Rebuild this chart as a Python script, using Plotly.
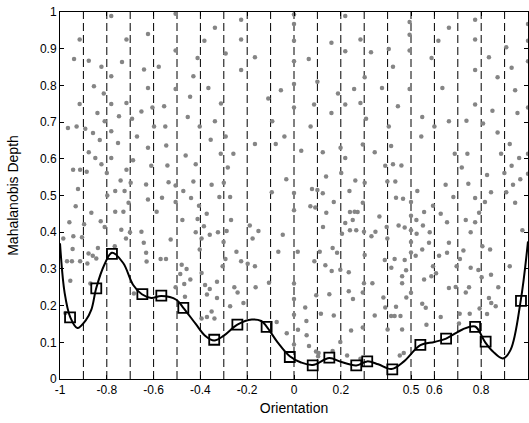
import plotly.graph_objects as go

# ---------------- data ----------------
# grey sample points (orientation, depth)
dot_x = [
 -0.781,-0.916,-0.716,-0.624,-0.506,-0.506,-0.940,-0.877,-0.823,-0.735,-0.641,-0.578,-0.781,-0.855,-0.813,-0.624,-0.506,
 -0.916,-0.781,-0.716,-0.605,-0.555,-0.840,-0.748,-0.652,-0.692,-0.809,-0.966,-0.929,-0.892,-0.859,-0.781,-0.598,-0.550,
 -0.830,-0.671,-0.752,-0.624,-0.546,-0.877,-0.849,-0.781,-0.688,-0.823,-0.610,-0.541,-0.944,-0.914,-0.886,-0.716,-0.800,
 -0.741,-0.698,-0.536,-0.632,-0.506,-0.923,-0.764,-0.724,
 -0.338,-0.226,0.0,0.0,-0.383,-0.226,0.0,-0.412,-0.292,-0.167,0.0,-0.226,-0.430,-0.366,-0.056,0.0,-0.444,-0.110,-0.312,0.0,
 -0.454,-0.338,-0.093,-0.403,-0.292,-0.041,-0.356,-0.167,-0.078,-0.463,-0.313,-0.259,-0.420,-0.283,-0.033,-0.430,-0.352,
 -0.300,-0.473,-0.095,0.0,
 0.219,0.160,0.284,0.494,0.494,0.494,0.063,0.219,0.329,0.405,0.423,0.302,0.100,0.257,0.376,0.494,0.188,0.086,0.219,0.284,
 0.444,0.160,0.308,0.071,0.405,0.031,0.123,0.199,0.294,0.345,0.415,0.219,0.390,0.423,0.459,0.137,0.202,0.262,0.302,0.399,
 0.433,0.077,0.100,0.123,0.237,
 0.662,0.774,1.0,1.0,0.617,0.774,0.907,0.588,0.833,1.0,0.774,0.930,0.870,0.634,0.945,0.774,0.848,0.955,1.0,0.548,0.662,
 0.737,0.808,0.600,0.870,0.544,0.922,0.687,0.741,0.885,1.0,0.962,0.717,0.930,0.825,0.899,1.0,0.648,0.745,0.936,0.967,
 0.527,0.842,0.907,
 -0.798,-0.624,-0.564,-0.506,-0.933,-0.866,-0.764,-0.729,-0.707,-0.587,-0.960,-0.897,-0.826,-0.809,-0.738,-0.701,-0.652,
 -0.986,-0.943,-0.906,-0.718,-0.642,-0.527,-0.946,-0.838,-0.766,-0.632,-0.878,-0.860,-0.845,-0.970,-0.949,-0.914,-0.883,
 -0.630,-0.570,-0.547,-0.956,-0.870,-0.506,-0.684,-0.977,
 -0.440,-0.319,-0.273,-0.406,-0.373,-0.477,-0.412,-0.385,-0.420,-0.360,-0.395,-0.325,-0.288,-0.301,-0.269,-0.189,-0.152,
 -0.177,-0.048,-0.403,-0.246,-0.293,-0.226,-0.198,-0.305,-0.167,-0.067,-0.480,-0.459,-0.486,-0.395,-0.443,-0.469,-0.329,
 -0.380,-0.360,-0.372,-0.255,-0.241,-0.164,-0.107,-0.329,-0.466,-0.216,-0.273,-0.395,-0.372,-0.352,-0.340,-0.074,-0.031,
 0.0,0.0,0.0,0.0,0.0,0.070,0.091,0.170,0.138,0.124,0.219,0.239,0.259,0.272,0.294,0.251,0.239,0.266,0.205,0.299,0.331,
 0.348,0.365,0.436,0.466,0.447,0.473,0.396,0.399,0.016,0.087,0.110,0.165,0.184,0.134,0.161,0.198,0.234,0.302,0.388,
 0.416,0.430,0.473,0.479,0.462,0.299,0.335,0.462,0.095,0.151,0.234,0.252,0.294,0.382,0.480,0.390,0.436,0.415,0.430,
 0.455,0.048,0.115,0.170,0.345,0.053,0.017,0.054,0.244,0.294,0.400,0.462,0.198,0.064,0.094,0.105,0.165,0.103,0.227,
 0.284,0.452,0.469,
 0.5,0.5,0.5,0.5,0.5,0.5,0.594,0.556,0.627,0.681,0.774,0.816,0.945,0.523,0.551,0.580,0.524,0.654,0.734,0.774,0.791,
 0.755,0.577,0.662,0.548,0.520,0.620,0.654,0.724,0.709,0.805,0.838,0.976,0.594,0.607,0.587,0.556,0.695,0.755,0.788,
 0.802,0.842,0.922,0.662,0.691,0.734,0.748,0.873,0.548,0.563,0.627,0.833,0.843,0.862,0.793,0.708,0.751,0.825,0.566,
 0.705,
]
dot_y = [
 0.989,0.925,0.925,0.940,0.995,0.895,0.872,0.867,0.851,0.864,0.843,0.851,0.825,0.798,0.778,0.793,0.790,
 0.749,0.749,0.752,0.740,0.743,0.725,0.716,0.729,0.709,0.702,0.684,0.688,0.682,0.670,0.675,0.688,0.688,
 0.651,0.661,0.643,0.630,0.636,0.618,0.602,0.602,0.596,0.585,0.581,0.582,0.570,0.570,0.565,0.570,0.561,
 0.541,0.535,0.536,0.530,0.527,0.518,0.512,0.512,
 0.957,0.979,0.993,0.967,0.922,0.925,0.922,0.875,0.887,0.877,0.866,0.842,0.825,0.793,0.787,0.804,0.769,0.764,0.751,0.740,
 0.714,0.702,0.702,0.688,0.661,0.661,0.652,0.640,0.640,0.609,0.614,0.614,0.585,0.576,0.544,0.538,0.529,
 0.535,0.512,0.509,0.507,
 0.989,0.916,0.925,0.973,0.938,0.895,0.872,0.893,0.890,0.899,0.851,0.822,0.810,0.790,0.793,0.790,0.778,0.748,0.748,0.752,
 0.743,0.725,0.709,0.688,0.688,0.622,0.618,0.630,0.639,0.618,0.635,0.602,0.581,0.585,0.582,0.552,0.561,0.541,0.535,0.538,
 0.538,0.518,0.515,0.506,0.512,
 0.957,0.979,0.967,0.922,0.922,0.925,0.904,0.875,0.877,0.866,0.842,0.848,0.822,0.793,0.787,0.748,0.731,0.725,0.740,0.714,0.702,
 0.704,0.696,0.688,0.672,0.661,0.640,0.614,0.614,0.614,0.614,0.602,0.576,0.581,0.556,0.561,0.559,0.529,0.532,0.529,0.544,
 0.512,0.509,0.509,
 0.500,0.489,0.494,0.482,0.471,0.453,0.456,0.456,0.480,0.456,0.427,0.422,0.430,0.414,0.407,0.400,0.401,
 0.383,0.389,0.386,0.383,0.371,0.380,0.354,0.357,0.362,0.344,0.342,0.336,0.328,0.321,0.321,0.321,0.315,
 0.320,0.327,0.327,0.268,0.260,0.250,0.233,0.180,
 0.493,0.496,0.496,0.472,0.450,0.433,0.436,0.416,0.400,0.393,0.383,0.400,0.403,0.373,0.433,0.418,0.403,
 0.383,0.393,0.353,0.347,0.327,0.321,0.314,0.307,0.307,0.347,0.311,0.300,0.286,0.289,0.271,0.259,0.265,
 0.256,0.245,0.230,0.250,0.236,0.250,0.262,0.221,0.224,0.207,0.198,0.165,0.169,0.184,0.165,0.155,0.125,
 0.460,0.260,0.218,0.175,0.094,0.471,0.467,0.482,0.453,0.414,0.425,0.455,0.456,0.455,0.480,0.433,0.405,0.405,0.396,0.401,0.389,
 0.401,0.443,0.494,0.491,0.418,0.413,0.414,0.383,0.347,0.321,0.347,0.357,0.344,0.310,0.294,0.298,0.291,0.338,0.324,
 0.303,0.327,0.324,0.296,0.280,0.261,0.261,0.261,0.228,0.231,0.239,0.218,0.236,0.222,0.222,0.195,0.197,0.172,0.172,
 0.172,0.195,0.178,0.173,0.173,0.158,0.134,0.119,0.132,0.140,0.135,0.135,0.101,0.090,0.075,0.071,0.076,0.062,0.064,
 0.055,0.064,0.071,
 0.482,0.445,0.405,0.373,0.345,0.235,0.472,0.455,0.450,0.496,0.493,0.482,0.480,0.433,0.418,0.400,0.396,0.427,0.433,0.427,0.453,
 0.400,0.371,0.371,0.353,0.336,0.336,0.344,0.350,0.327,0.362,0.353,0.405,0.307,0.288,0.280,0.271,0.307,0.303,0.297,
 0.277,0.284,0.307,0.248,0.251,0.236,0.250,0.250,0.205,0.194,0.169,0.221,0.207,0.198,0.192,0.178,0.178,0.177,0.148,
 0.151,
]

# square markers (bin medians)
sq_x = [-0.957,-0.845,-0.778,-0.648,-0.567,-0.473,-0.341,-0.242,-0.117,-0.018,
        0.080,0.151,0.266,0.313,0.420,0.540,0.650,0.774,0.819,0.970]
sq_y = [0.168,0.247,0.341,0.231,0.227,0.194,0.107,0.148,0.142,0.060,
        0.037,0.058,0.037,0.048,0.026,0.093,0.110,0.142,0.102,0.213]

# smooth depth curve
curve_x = [-1.0,-0.98,-0.956,-0.926,-0.89,-0.866,-0.845,-0.81,-0.778,-0.73,-0.688,-0.65,-0.61,-0.567,
           -0.503,-0.473,-0.42,-0.38,-0.341,-0.30,-0.242,-0.18,-0.14,-0.117,-0.07,-0.018,0.03,0.08,
           0.151,0.20,0.266,0.313,0.36,0.416,0.47,0.54,0.60,0.65,0.72,0.774,0.816,0.85,0.893,0.926,
           0.969,1.0]
curve_y = [0.37,0.234,0.168,0.139,0.16,0.189,0.248,0.312,0.344,0.316,0.257,0.231,0.221,0.226,
           0.216,0.194,0.15,0.118,0.105,0.118,0.148,0.162,0.158,0.143,0.10,0.062,0.045,0.038,
           0.057,0.047,0.037,0.048,0.040,0.027,0.048,0.092,0.101,0.110,0.135,0.143,0.101,0.075,0.056,0.080,
           0.214,0.375]

# vertical bin boundaries
bin_edges = [-0.9,-0.8,-0.7,-0.6,-0.5,-0.4,-0.3,-0.2,-0.1,0.0,0.1,0.2,0.3,0.4,0.5,0.6,0.7,0.8,0.9]

x_ticks = [-1,-0.8,-0.6,-0.4,-0.2,0,0.2,0.5,0.6,0.8,1]
x_tick_text = ["-1","-0.8","-0.6","-0.4","-0.2","0","0.2","0.5","0.6","0.8","1"]
y_ticks = [0,0.1,0.2,0.3,0.4,0.5,0.6,0.7,0.8,0.9,1]
y_tick_text = ["0","0.1","0.2","0.3","0.4","0.5","0.6","0.7","0.8","0.9","1"]

# ---------------- figure ----------------
fig = go.Figure()

vx, vy = [], []
for e in bin_edges:
    vx += [e, e, None]
    vy += [0, 1, None]
fig.add_trace(go.Scatter(x=vx, y=vy, mode="lines",
                         line=dict(color="black", width=1, dash="8px,4px"),
                         hoverinfo="skip", showlegend=False))

fig.add_trace(go.Scatter(x=dot_x, y=dot_y, mode="markers",
                         marker=dict(color="#858585", size=4.5, line=dict(width=0)),
                         showlegend=False))

fig.add_trace(go.Scatter(x=curve_x, y=curve_y, mode="lines",
                         line=dict(color="black", width=2, shape="spline", smoothing=1.0),
                         showlegend=False))

fig.add_trace(go.Scatter(x=sq_x, y=sq_y, mode="markers",
                         marker=dict(symbol="square-open", color="black", size=10,
                                     line=dict(width=1.8, color="black")),
                         showlegend=False))

font_family = "Liberation Sans, Arial, sans-serif"
fig.update_layout(
    width=529, height=423,
    margin=dict(l=60, r=1, t=12, b=44),
    paper_bgcolor="white", plot_bgcolor="white",
    font=dict(family=font_family, size=12, color="black"),
    showlegend=False,
    xaxis=dict(range=[-1, 1], tickvals=x_ticks, ticktext=x_tick_text,
               ticks="inside", ticklen=4, tickcolor="black",
               showline=True, linecolor="black", linewidth=1, mirror="ticks",
               showgrid=False, zeroline=False,
               title=dict(text="Orientation", standoff=6)),
    yaxis=dict(range=[0, 1], tickvals=y_ticks, ticktext=y_tick_text,
               ticks="inside", ticklen=4, tickcolor="black",
               showline=True, linecolor="black", linewidth=1, mirror="ticks",
               showgrid=False, zeroline=False,
               title=dict(text="Mahalanobis Depth", standoff=18)),
)

fig.write_html("out.html")
